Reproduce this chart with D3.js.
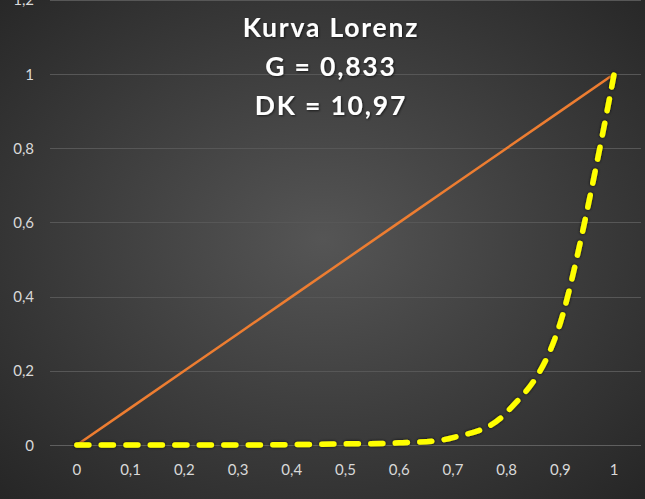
<!DOCTYPE html>
<html>
<head>
<meta charset="utf-8">
<script src="https://cdn.jsdelivr.net/npm/d3@7"></script>
<style>
  html, body { margin: 0; padding: 0; background: #333; }
  svg { display: block; }
  text { font-family: Lato, "Open Sans", sans-serif; }
</style>
</head>
<body>
<svg id="chart" width="645" height="499"></svg>
<script>
// data
var categories = ["0", "0,1", "0,2", "0,3", "0,4", "0,5", "0,6", "0,7", "0,8", "0,9", "1"];
var lorenz = [0, 0, 0, 0, 0.001, 0.003, 0.006, 0.02, 0.088, 0.33, 1];
var equality = [0, 0.1, 0.2, 0.3, 0.4, 0.5, 0.6, 0.7, 0.8, 0.9, 1];
var yTicks = [0, 0.2, 0.4, 0.6, 0.8, 1, 1.2];
var titleLines = ["Kurva Lorenz", "G = 0,833", "DK = 10,97"];

var W = 645, H = 499;
var svg = d3.select("#chart");
var defs = svg.append("defs");

var bg = defs.append("radialGradient").attr("id", "bg")
    .attr("cx", "50%").attr("cy", "48%").attr("r", "72%");
bg.append("stop").attr("offset", "0%").attr("stop-color", "#555555");
bg.append("stop").attr("offset", "100%").attr("stop-color", "#262626");

var sh = defs.append("filter").attr("id", "shadow")
    .attr("x", "-10%").attr("y", "-10%").attr("width", "120%").attr("height", "120%");
sh.append("feDropShadow").attr("dx", 0).attr("dy", 0)
    .attr("stdDeviation", 1.4).attr("flood-color", "#000").attr("flood-opacity", 0.85);

var tsh = defs.append("filter").attr("id", "tshadow");
tsh.append("feDropShadow").attr("dx", 1).attr("dy", 1)
    .attr("stdDeviation", 1).attr("flood-color", "#000").attr("flood-opacity", 0.6);

svg.append("rect").attr("width", W).attr("height", H).attr("fill", "url(#bg)");

var x = d3.scalePoint().domain(categories).range([50, 641]).padding(0.5);
var y = d3.scaleLinear().domain([0, 1.2]).range([445, -0.2]);

// gridlines
svg.append("g").selectAll("line").data(yTicks).join("line")
    .attr("x1", 50).attr("x2", 641)
    .attr("y1", d => Math.round(y(d)) + 0.5).attr("y2", d => Math.round(y(d)) + 0.5)
    .attr("stroke", d => d == 0 ? "#5f5f5f" : "#575757")
    .attr("stroke-width", 1);

// y labels (1,2 sits at the top edge, cut like in the original)
var fmt = d => String(d).replace(".", ",");
svg.append("g").selectAll("text").data(yTicks).join("text")
    .attr("x", 34).attr("y", d => y(d) + 5.5)
    .attr("text-anchor", "end")
    .attr("fill", "#d9d9d9").attr("font-size", 15)
    .text(fmt);

// x labels
svg.append("g").selectAll("text").data(categories).join("text")
    .attr("x", d => x(d)).attr("y", 475)
    .attr("text-anchor", "middle")
    .attr("fill", "#d9d9d9").attr("font-size", 15)
    .text(d => d);

// line of equality
var eqLine = d3.line()
    .x((d, i) => x(categories[i]))
    .y(d => y(d));
svg.append("path").datum(equality)
    .attr("d", eqLine)
    .attr("fill", "none")
    .attr("stroke", "#ed7d31")
    .attr("stroke-width", 2.5)
    .attr("stroke-linecap", "round");

// lorenz curve (smoothed, dashed)
var lzLine = d3.line()
    .x((d, i) => x(categories[i]))
    .y(d => y(d))
    .curve(d3.curveCardinal.tension(0));
svg.append("path").datum(lorenz)
    .attr("d", lzLine)
    .attr("fill", "none")
    .attr("stroke", "#ffff00")
    .attr("stroke-width", 5.5)
    .attr("stroke-linecap", "round")
    .attr("stroke-dasharray", "12,12.5")
    .attr("filter", "url(#shadow)");

// title
svg.append("g").selectAll("text").data(titleLines).join("text")
    .attr("x", 331).attr("y", (d, i) => 37 + i * 39)
    .attr("text-anchor", "middle")
    .attr("fill", "#ffffff")
    .attr("font-size", 26.5).attr("font-weight", "bold")
    .attr("letter-spacing", 1.8)
    .attr("filter", "url(#tshadow)")
    .text(d => d);
</script>
</body>
</html>
